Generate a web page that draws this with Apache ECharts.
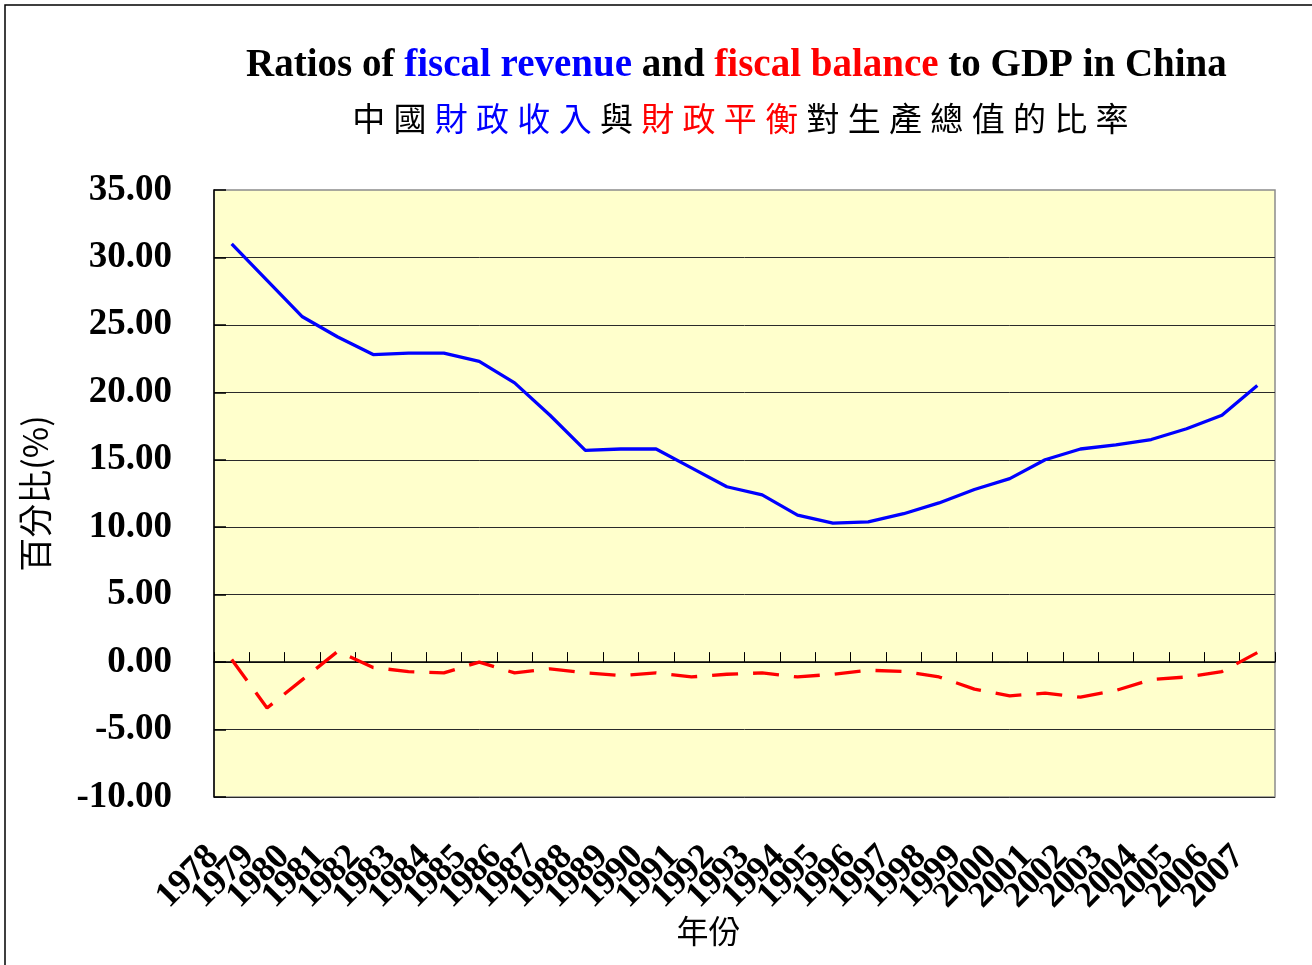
<!DOCTYPE html>
<html>
<head>
<meta charset="utf-8">
<script src="https://cdn.jsdelivr.net/npm/echarts@6/dist/echarts.min.js"></script>
<style>
html,body{margin:0;padding:0;background:#fff;}
#chart{width:1312px;height:965px;}
</style>
</head>
<body>
<div id="chart"></div>
<script>
var years = ['1978','1979','1980','1981','1982','1983','1984','1985','1986','1987','1988','1989','1990','1991','1992','1993','1994','1995','1996','1997','1998','1999','2000','2001','2002','2003','2004','2005','2006','2007'];
var revenueRatio = [31.0, 28.3, 25.6, 24.1, 22.8, 22.9, 22.9, 22.3, 20.7, 18.3, 15.7, 15.8, 15.8, 14.4, 13.0, 12.4, 10.9, 10.3, 10.4, 11.0, 11.8, 12.8, 13.6, 15.0, 15.8, 16.1, 16.5, 17.3, 18.3, 20.5];
var balanceRatio = [0.2, -3.4, -1.3, 0.8, -0.4, -0.7, -0.8, 0.0, -0.8, -0.5, -0.8, -1.0, -0.8, -1.1, -0.9, -0.8, -1.1, -0.9, -0.6, -0.7, -1.1, -2.0, -2.5, -2.3, -2.6, -2.1, -1.3, -1.1, -0.7, 0.7];
var yMin = -10, yMax = 35, yStep = 5;

var serif = '"Liberation Serif", "Times New Roman", serif';
var cjk = '"Noto Sans CJK TC", "Noto Sans CJK SC", sans-serif';

// Chinese title with per-character cells
var zhParts = [['中國','k'],['財政收入','b'],['與','k'],['財政平衡','r'],['對生產總值的比率','k']];
var zhText = zhParts.map(function(p){
  return p[0].split('').map(function(ch){ return '{' + p[1] + '|' + ch + '}'; }).join('');
}).join('');
function zhStyle(color){ return {color: color, fontFamily: cjk, fontWeight: 'normal', fontSize: 33, width: 41.3, align: 'center'}; }

var chart = echarts.init(document.getElementById('chart'), null, {renderer: 'canvas'});
chart.setOption({
  animation: false,
  backgroundColor: '#ffffff',
  title: [{
    left: 241, top: 41,
    text: '{k|Ratios of }{b|fiscal revenue}{k| and }{r|fiscal balance}{k| to GDP in China}',
    textStyle: {
      rich: {
        k: {color: '#000', fontFamily: serif, fontWeight: 'bold', fontSize: 39},
        b: {color: '#0000ff', fontFamily: serif, fontWeight: 'bold', fontSize: 39},
        r: {color: '#ff0000', fontFamily: serif, fontWeight: 'bold', fontSize: 39}
      }
    }
  }, {
    left: 343, top: 97,
    text: zhText,
    textStyle: { fontWeight: 'normal', rich: { k: zhStyle('#000'), b: zhStyle('#0000ff'), r: zhStyle('#ff0000') } }
  }],
  graphic: [{
    type: 'rect', silent: true, z: -1,
    shape: {x: 5, y: 5, width: 1400, height: 1000},
    style: {fill: null, stroke: '#000', lineWidth: 1.5}
  }],
  grid: {
    left: 214, right: 37, top: 190, bottom: 168,
    show: true, backgroundColor: '#ffffcc', borderColor: '#8c8c8c', borderWidth: 1.5
  },
  xAxis: [{
    type: 'category', data: years, position: 'bottom', boundaryGap: true,
    axisLine: {show: false, onZero: false},
    axisTick: {show: false},
    axisLabel: {
      interval: 0, rotate: 45, margin: 36, padding: [0, 26, 0, 0],
      fontFamily: serif, fontWeight: 'bold', fontSize: 36, color: '#000'
    },
    name: '年份', nameLocation: 'middle', nameGap: 118, nameMoveOverlap: false,
    nameTextStyle: {fontFamily: cjk, fontSize: 32, color: '#000', padding: [0, 72, 0, 0]}
  }, {
    type: 'category', data: years, position: 'bottom', boundaryGap: true,
    axisLine: {show: true, onZero: true, onZeroAxisIndex: 0, lineStyle: {color: '#000', width: 1.5}},
    axisTick: {show: true, inside: true, length: 10, lineStyle: {color: '#000', width: 1}},
    axisLabel: {show: false},
    splitLine: {show: false}
  }],
  yAxis: {
    type: 'value', min: yMin, max: yMax, interval: yStep,
    axisLine: {show: true, lineStyle: {color: '#000', width: 1.5}},
    axisTick: {show: true, inside: true, length: 12, lineStyle: {color: '#000', width: 1.5}},
    axisLabel: {
      margin: 42, fontFamily: serif, fontWeight: 'bold', fontSize: 37, color: '#000',
      formatter: function(v){ return v.toFixed(2); }
    },
    splitLine: {show: true, showMaxLine: false, lineStyle: {color: '#2a2a2a', width: 1}},
    name: '百分比(%)', nameLocation: 'middle', nameGap: 162, nameRotate: 90, nameMoveOverlap: false,
    nameTextStyle: {fontFamily: cjk, fontSize: 34, color: '#000'}
  },
  series: [{
    name: 'fiscal revenue', type: 'line', data: revenueRatio, xAxisIndex: 0,
    symbol: 'none', lineStyle: {color: '#0000ff', width: 3.3}, z: 3
  }, {
    name: 'fiscal balance', type: 'line', data: balanceRatio, xAxisIndex: 0,
    symbol: 'none', lineStyle: {color: '#ff0000', width: 3.3, type: [26, 15]}, z: 3
  }]
});
</script>
</body>
</html>
